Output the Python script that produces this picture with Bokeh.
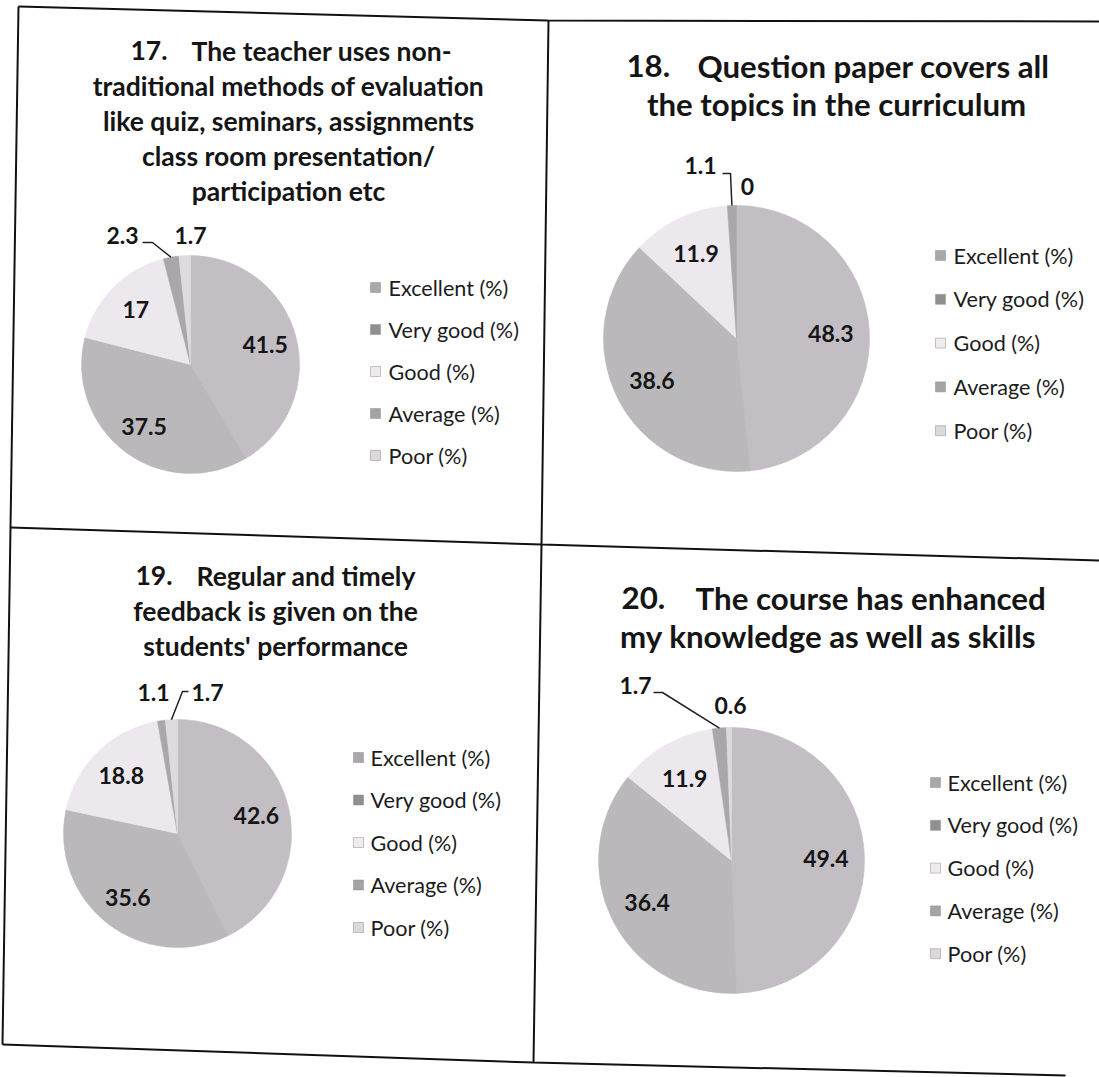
import math
from bokeh.plotting import figure
from bokeh.models import Range1d, ColumnDataSource
from bokeh.core.properties import value
from bokeh.embed import file_html
from bokeh.resources import INLINE

# ---------------- data ----------------
categories = ["Excellent (%)", "Very good (%)", "Good (%)", "Average (%)", "Poor  (%)"]
colors = ["#c2bec3", "#bbb8bc", "#ece8ed", "#aaa7ab", "#dedade"]
legend_colors = ["#aaa6ab", "#918e92", "#efebef", "#a6a3a7", "#dcd8dc"]

q17_values = [41.5, 37.5, 17, 2.3, 1.7]
q18_values = [48.3, 38.6, 11.9, 1.1, 0]
q19_values = [42.6, 35.6, 18.8, 1.1, 1.7]
q20_values = [49.4, 36.4, 11.9, 1.7, 0.6]

q17_number = "17."
q17_title = ["The teacher uses non-", "traditional methods of evaluation",
             "like quiz, seminars, assignments", "class room presentation/",
             "participation etc"]
q18_number = "18."
q18_title = ["Question paper covers all", "the topics in the curriculum"]
q19_number = "19."
q19_title = ["Regular and timely", "feedback is given on the", "students' performance"]
q20_number = "20."
q20_title = ["The course has enhanced", "my knowledge as well as skills"]

# ---------------- layout (screen pixels) ----------------
panels = [
    dict(values=q17_values, number=q17_number, title=q17_title,
         cx=190, cy=364, r=109,
         num_x=130, first_x=191, tcx=288, ty0=50, tdy=35, tsize=26.5,
         lsx=375, ltx=388, ly0=287, ldy=42,
         small={3: (-68, -129), 4: (0, -129)},
         leader=(3, [(-48, -122), (-38, -122)])),
    dict(values=q18_values, number=q18_number, title=q18_title,
         cx=736, cy=338, r=133,
         num_x=626, first_x=697, tcx=836, ty0=65, tdy=38, tsize=31.2,
         lsx=940, ltx=953, ly0=255, ldy=43.8,
         small={3: (-36, -173), 4: (11, -152)},
         leader=(3, [(-14, -165), (-6, -165)])),
    dict(values=q19_values, number=q19_number, title=q19_title,
         cx=177, cy=833, r=114,
         num_x=135, first_x=196, tcx=275, ty0=575, tdy=35, tsize=26.5,
         lsx=358, ltx=370, ly0=757, ldy=42.5,
         small={3: (-24, -141), 4: (30, -141)},
         leader=(4, [(11, -142), (5, -142)])),
    dict(values=q20_values, number=q20_number, title=q20_title,
         cx=731, cy=860, r=133,
         num_x=621, first_x=695, tcx=828, ty0=597, tdy=38, tsize=31.3,
         lsx=935, ltx=947, ly0=782, ldy=42.8,
         small={3: (-96, -175), 4: (-1, -155)},
         leader=(3, [(-78, -168), (-69, -168)])),
]

border_x = [[18, 547, 1099], [18, 10, 2], [548, 541, 533], [10, 541, 1099], [2, 533, 1065]]
border_y = [[6, 20, 21], [6, 527, 1044], [20, 544, 1062], [527, 544, 560], [1044, 1062, 1075]]

FONT = value("Lato")
INK = "#151515"
LABEL_FRAC = 0.71

W, H = 1099, 1077
p = figure(width=W, height=H, x_range=Range1d(0, W), y_range=Range1d(-H, 0),
           output_backend="svg", toolbar_location=None, min_border=0,
           x_axis_type=None, y_axis_type=None)
p.grid.visible = False
p.outline_line_color = None
p.background_fill_color = "white"
p.border_fill_color = "white"

# borders (data y = -screen y)
p.multi_line(xs=border_x, ys=[[-v for v in ys] for ys in border_y],
             line_color="#111111", line_width=2)

for pn in panels:
    vals = pn["values"]
    total = sum(vals)
    cx, cy, r = pn["cx"], pn["cy"], pn["r"]
    starts, ends, mids = [], [], []
    cum = 0.0
    for v in vals:
        a0 = cum / total
        cum += v
        a1 = cum / total
        starts.append(a0)
        ends.append(a1)
        mids.append((a0 + a1) / 2)

    keep = [i for i, v in enumerate(vals) if v > 0]
    src = ColumnDataSource(dict(
        x=[cx] * len(keep), y=[-cy] * len(keep),
        start=[math.pi / 2 - 2 * math.pi * starts[i] for i in keep],
        end=[math.pi / 2 - 2 * math.pi * ends[i] for i in keep],
        color=[colors[i] for i in keep],
    ))
    p.wedge(x="x", y="y", radius=r, start_angle="start", end_angle="end",
            direction="clock", fill_color="color", line_color="color",
            line_width=0.6, source=src)

    # data labels
    lx, ly, lt = [], [], []
    for i, v in enumerate(vals):
        if i in pn["small"]:
            dx, dy = pn["small"][i]
            lx.append(cx + dx)
            ly.append(-(cy + dy))
        else:
            th = 2 * math.pi * mids[i]
            lx.append(cx + LABEL_FRAC * r * math.sin(th))
            ly.append(-(cy - LABEL_FRAC * r * math.cos(th)))
        lt.append(f"{v:g}")
    p.text(x=lx, y=ly, text=lt, text_font=FONT, text_font_style="bold",
           text_font_size="23px", text_color=INK, text_align="center",
           text_baseline="middle")

    # leader line
    tgt, pts = pn["leader"]
    th = 2 * math.pi * mids[tgt]
    ex = cx + r * math.sin(th)
    ey = cy - r * math.cos(th)
    p.line(x=[cx + a for a, b in pts] + [ex], y=[-(cy + b) for a, b in pts] + [-ey],
           line_color="#222222", line_width=1.5)

    # title
    ts = f"{pn['tsize']}px"
    p.text(x=[pn["num_x"]], y=[-pn["ty0"]], text=[pn["number"]], text_font=FONT,
           text_font_style="bold", text_font_size=ts, text_color=INK,
           text_align="left", text_baseline="middle")
    p.text(x=[pn["first_x"]], y=[-pn["ty0"]], text=[pn["title"][0]], text_font=FONT,
           text_font_style="bold", text_font_size=ts, text_color=INK,
           text_align="left", text_baseline="middle")
    rest = pn["title"][1:]
    p.text(x=[pn["tcx"]] * len(rest),
           y=[-(pn["ty0"] + pn["tdy"] * (k + 1)) for k in range(len(rest))],
           text=rest, text_font=FONT, text_font_style="bold", text_font_size=ts,
           text_color=INK, text_align="center", text_baseline="middle")

    # legend
    ys = [-(pn["ly0"] + pn["ldy"] * k) for k in range(len(categories))]
    p.scatter(x=[pn["lsx"]] * len(categories), y=ys, marker="square", size=10,
              fill_color=legend_colors, line_color="#8f8c90", line_width=0.5)
    p.text(x=[pn["ltx"]] * len(categories), y=ys, text=categories, text_font=FONT,
           text_font_size="21.6px", text_color="#1c1c1c", text_align="left",
           text_baseline="middle")

open("out.html", "w").write(file_html(p, INLINE))
